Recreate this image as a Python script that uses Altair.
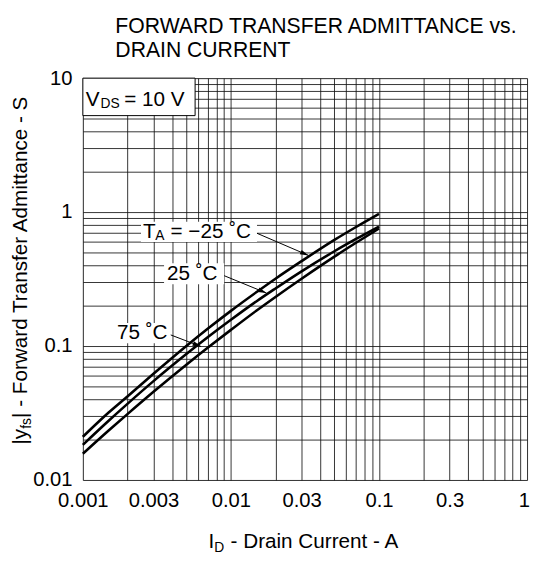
import math
import altair as alt
import pandas as pd

FONT = "Liberation Sans"

# ---- data ----
current = [0.001, 0.0015, 0.002, 0.003, 0.005, 0.007, 0.01, 0.015, 0.02, 0.03, 0.05, 0.07, 0.1]
yfs_m25 = [0.021, 0.032, 0.042, 0.062, 0.100, 0.135, 0.183, 0.254, 0.318, 0.43, 0.62, 0.774, 0.97]
yfs_25 = [0.0183, 0.0278, 0.037, 0.0547, 0.0871, 0.1167, 0.157, 0.217, 0.269, 0.361, 0.51, 0.63, 0.78]
yfs_75 = [0.0157, 0.0235, 0.031, 0.0455, 0.0725, 0.0974, 0.132, 0.185, 0.2325, 0.318, 0.465, 0.59, 0.754]
series_names = ["-25", "25", "75"]

x_grid = [float(f"{m}e{k}") for k in (-3, -2, -1) for m in range(1, 10)] + [1.0]
y_grid = [float(f"{m}e{k}") for k in (-2, -1, 0) for m in range(1, 10)] + [10.0]
x_labels = [0.001, 0.003, 0.01, 0.03, 0.1, 0.3]
x_last_label = 1
y_labels = [0.01, 0.1, 1, 10]

# annotation boxes (data units)
box_x1 = [0.00247, 0.003535, 0.001596]
box_x2 = [0.0150, 0.009006, 0.003881]
box_y1 = [0.598, 0.2887, 0.1051]
box_y2 = [0.847, 0.4157, 0.1488]
vds_box = dict(x=0.001, x2=0.00573, y=5.25, y2=10.0)

# arrows: start (label side) -> tip (curve side)
arr_x1 = [0.0150, 0.009006, 0.003925]
arr_y1 = [0.6947, 0.335, 0.121]
arr_x2 = [0.03345, 0.01737, 0.00629]
arr_y2 = [0.4745, 0.2487, 0.0991]

# label anchors
ta_anchor = (0.00247, 0.706)
t25_anchor = (0.00370, 0.3464)
t75_anchor = (0.001699, 0.1241)
vds_anchor = (0.001, 6.89)

W, H = 451, 408
XPD = W / 3.0   # px per decade
YPD = H / 3.0

# ---- tables ----
rows = []
for name, vals in zip(series_names, [yfs_m25, yfs_25, yfs_75]):
    for c, v in zip(current, vals):
        rows.append({"x": c, "y": v, "s": name})
lines_df = pd.DataFrame(rows)

boxes_df = pd.DataFrame({"x": box_x1, "x2": box_x2, "y": box_y1, "y2": box_y2})
vds_df = pd.DataFrame([vds_box])
arrows_df = pd.DataFrame({"x": arr_x1, "y": arr_y1, "x2": arr_x2, "y2": arr_y2})
heads = []
for a, b, c, d in zip(arr_x1, arr_y1, arr_x2, arr_y2):
    dxp = math.log10(c / a) * XPD
    dyp = -math.log10(d / b) * YPD
    ang = math.degrees(math.atan2(dyp, dxp)) % 360
    heads.append({"x": c, "y": d, "angle": ang})
heads_df = pd.DataFrame(heads)

xs = alt.Scale(type="log", domain=[0.001, 1], nice=False)
ys = alt.Scale(type="log", domain=[0.01, 10], nice=False)

x_axis = alt.Axis(
    values=x_grid, title=None, grid=True, ticks=False, domain=False,
    labelExpr=f"indexof({x_labels}, datum.value) >= 0 ? format(datum.value, '~g') : ''",
    labelFont=FONT, labelFontSize=20.5, labelColor="black", labelPadding=11,
    gridColor="#111", gridWidth=1, gridOpacity=0.85, labelOverlap=False, labelFlush=False,
)
y_axis = alt.Axis(
    values=y_grid, title=None, grid=True, ticks=False, domain=False,
    labelExpr=f"indexof({y_labels}, datum.value) >= 0 ? format(datum.value, '~g') : ''",
    labelFont=FONT, labelFontSize=20.5, labelColor="black", labelPadding=11,
    gridColor="#111", gridWidth=1, gridOpacity=0.85, labelOverlap=False, labelFlush=False,
)


def X(f="x"):
    return alt.X(f"{f}:Q", scale=xs, axis=x_axis)


def Y(f="y"):
    return alt.Y(f"{f}:Q", scale=ys, axis=y_axis)


lines = alt.Chart(lines_df).mark_line(color="black", strokeWidth=2.6, interpolate="monotone").encode(
    x=X(), y=Y(), detail="s:N"
)

boxes = alt.Chart(boxes_df).mark_rect(fill="white", stroke=None).encode(
    x=X(), x2="x2:Q", y=Y(), y2="y2:Q"
)
vbox = alt.Chart(vds_df).mark_rect(fill="white", stroke="black", strokeWidth=1).encode(
    x=X(), x2="x2:Q", y=Y(), y2="y2:Q"
)
arrows = alt.Chart(arrows_df).mark_rule(color="black", strokeWidth=1).encode(
    x=X(), y=Y(), x2="x2:Q", y2="y2:Q"
)
arrowheads = alt.Chart(heads_df).mark_point(
    shape="M0,0L-1,-0.28L-1,0.28Z", filled=True, color="black", opacity=1, size=300
).encode(x=X(), y=Y(), angle=alt.Angle("angle:Q", scale=None))


def dtext(anchor, text, dx=0, dy=0, size=21, align="left", baseline="middle"):
    df = pd.DataFrame({"x": [anchor[0]], "y": [anchor[1]]})
    return alt.Chart(df).mark_text(
        text=text, dx=dx, dy=dy, fontSize=size, font=FONT, color="black",
        align=align, baseline=baseline
    ).encode(x=X(), y=Y())


one = pd.DataFrame({"a": [0]})


def ptext(px, py, text, dx=0, dy=0, size=21, angle=0, align="left", baseline="alphabetic"):
    return alt.Chart(one).mark_text(
        text=text, dx=dx, dy=dy, fontSize=size, font=FONT, color="black",
        align=align, baseline=baseline, angle=angle
    ).encode(x=alt.value(px), y=alt.value(py))


texts = [
    # last x tick label kept inside the page
    dtext((x_last_label, 0.01), str(x_last_label), dx=3, dy=11, size=20.5, align="right", baseline="top"),
    # Vds label
    dtext(vds_anchor, "V", dx=3),
    dtext(vds_anchor, "DS", dx=18, dy=4, size=14),
    dtext(vds_anchor, "= 10 V", dx=42),
    # Ta labels
    dtext(ta_anchor, "T", dx=2),
    dtext(ta_anchor, "A", dx=14.5, dy=4, size=14),
    dtext(ta_anchor, "= \u221225 \u02daC", dx=30),
    dtext(t25_anchor, "25 \u02daC"),
    dtext(t75_anchor, "75 \u02daC"),
    # chart title (two lines)
    ptext(33, -46, "FORWARD TRANSFER ADMITTANCE vs.", size=21.5),
    ptext(33, -21, "DRAIN CURRENT", size=21.5),
    # x-axis title
    ptext(127.5, 477, "I"),
    ptext(133.5, 481, "D", size=14),
    ptext(150, 477, "- Drain Current - A"),
    # y-axis title (rotated)
    ptext(-57, 372, "|y", angle=270),
    ptext(-57, 372, "fs", dx=16, dy=4, size=14, angle=270),
    ptext(-57, 372, "| - Forward Transfer Admittance - S", dx=27, angle=270),
]

chart = alt.layer(lines, boxes, vbox, arrows, arrowheads, *texts).properties(
    width=W, height=H,
    padding={"left": 76, "top": 67, "right": 3, "bottom": 74},
    autosize=alt.AutoSizeParams(type="none"),
).configure_view(stroke="black", strokeWidth=2).configure(background="white")

chart.save("out.html", embed_options={"renderer": "svg", "actions": False})
